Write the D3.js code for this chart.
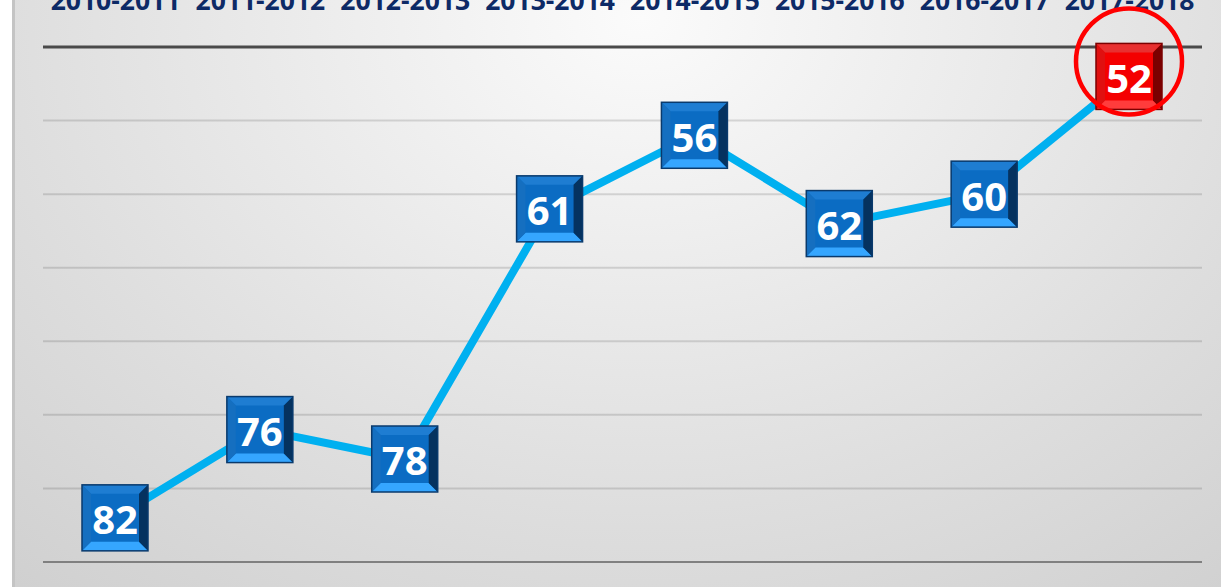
<!DOCTYPE html>
<html>
<head>
<meta charset="utf-8">
<script src="https://cdn.jsdelivr.net/npm/d3@7.9.0/dist/d3.min.js"></script>
<style>
  html, body { margin: 0; padding: 0; background: #fff; overflow: hidden; }
  svg { display: block; }
</style>
</head>
<body>
<svg id="chart" width="1221" height="587"></svg>
<script>
// season labels (top axis) and the value shown in each box
const seasons = ["2010-2011", "2011-2012", "2012-2013", "2013-2014",
                 "2014-2015", "2015-2016", "2016-2017", "2017-2018"];
const values = [82, 76, 78, 61, 56, 62, 60, 52];
const highlighted = ["2017-2018"];
const gridTicks = [50, 55, 60, 65, 70, 75, 80, 85];

const width = 1221, height = 587;
const svg = d3.select("#chart");
const defs = svg.append("defs");

// background panel gradient
const bg = defs.append("radialGradient")
  .attr("id", "bg").attr("cx", "52%").attr("cy", "5%").attr("r", "95%")
  .attr("gradientTransform", "scale(1,1.6) translate(0,-0.03)");
bg.append("stop").attr("offset", "0%").attr("stop-color", "#fbfbfb");
bg.append("stop").attr("offset", "55%").attr("stop-color", "#dedede");
bg.append("stop").attr("offset", "100%").attr("stop-color", "#c8c8c8");

svg.append("rect").attr("width", width).attr("height", height).attr("fill", "#ffffff");
svg.append("rect").attr("x", 12).attr("y", 0).attr("width", width - 12).attr("height", height)
  .attr("fill", "url(#bg)");
svg.append("rect").attr("x", 12).attr("y", 0).attr("width", 3).attr("height", height)
  .attr("fill", "#c4c4c4");

// scales
const x = d3.scalePoint().domain(seasons).range([115, 1129]);
const y = d3.scaleLinear().domain([50, 85]).range([47, 562]);

// gridlines
svg.append("g").selectAll("line")
  .data(gridTicks)
  .join("line")
  .attr("x1", 43).attr("x2", 1202)
  .attr("y1", d => y(d)).attr("y2", d => y(d))
  .attr("stroke", d => d === 50 ? "#4a4a4a" : (d === 85 ? "#808080" : "rgba(0,0,0,0.13)"))
  .attr("stroke-width", d => d === 50 ? 3 : 2);

// top axis labels (season), cropped at the top edge as in the source
const xAxis = d3.axisTop(x).tickSize(0).tickPadding(0);
const axisG = svg.append("g").attr("transform", "translate(0,10)").call(xAxis);
axisG.select(".domain").remove();
axisG.selectAll("text")
  .attr("y", 0).attr("dy", 0)
  .attr("fill", "#0d2a66")
  .style("font-family", "'Open Sans', 'DejaVu Sans', sans-serif")
  .style("font-weight", "bold")
  .style("font-size", "26.5px");

// line
const data = seasons.map((s, i) => ({ season: s, value: values[i] }));
svg.append("path")
  .datum(data)
  .attr("fill", "none")
  .attr("stroke", "#00b0f0")
  .attr("stroke-width", 8)
  .attr("stroke-linejoin", "round")
  .attr("d", d3.line().x(d => x(d.season)).y(d => y(d.value)));

// beveled boxes
const half = 33, bev = 9;
const palettes = {
  blue: { face: "#0b6cc3", top: "#1e7dd2", bottom: "#35a6ff", left: "#156fc0", right: "#05325f", edge: "#0a3a6c" },
  red:  { face: "#f40000", top: "#e83030", bottom: "#ff3c3c", left: "#e01010", right: "#7a0000", edge: "#7c0000" }
};

const boxes = svg.append("g").selectAll("g.box")
  .data(data)
  .join("g")
  .attr("class", "box")
  .attr("transform", d => `translate(${x(d.season)},${y(d.value)})`);

boxes.each(function(d) {
  const p = highlighted.includes(d.season) ? palettes.red : palettes.blue;
  const g = d3.select(this);
  const o = half, i = half - bev;
  g.append("rect").attr("x", -o).attr("y", -o).attr("width", 2 * o).attr("height", 2 * o)
    .attr("fill", p.face);
  g.append("polygon").attr("points", `${-o},${-o} ${o},${-o} ${i},${-i} ${-i},${-i}`).attr("fill", p.top);
  g.append("polygon").attr("points", `${-o},${o} ${o},${o} ${i},${i} ${-i},${i}`).attr("fill", p.bottom);
  g.append("polygon").attr("points", `${-o},${-o} ${-i},${-i} ${-i},${i} ${-o},${o}`).attr("fill", p.left);
  g.append("polygon").attr("points", `${o},${-o} ${i},${-i} ${i},${i} ${o},${o}`).attr("fill", p.right);
  g.append("rect").attr("x", -o).attr("y", -o).attr("width", 2 * o).attr("height", 2 * o)
    .attr("fill", "none").attr("stroke", p.edge).attr("stroke-width", 1.5);
  g.append("text")
    .attr("text-anchor", "middle")
    .attr("dy", "0.36em")
    .attr("y", 2)
    .attr("fill", "#ffffff")
    .style("font-family", "'Open Sans', 'DejaVu Sans', sans-serif")
    .style("font-weight", "bold")
    .style("font-size", "40px")
    .text(d.value);
});

// highlight ring
svg.append("g").selectAll("circle")
  .data(data.filter(d => highlighted.includes(d.season)))
  .join("circle")
  .attr("cx", d => x(d.season))
  .attr("cy", d => y(d.value) - 15)
  .attr("r", 53)
  .attr("fill", "none")
  .attr("stroke", "#ff0000")
  .attr("stroke-width", 4.5);
</script>
</body>
</html>
